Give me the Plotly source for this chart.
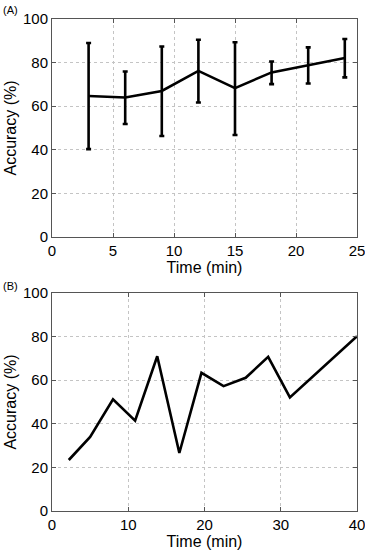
import plotly.graph_objects as go
from plotly.subplots import make_subplots

# panel A: mean accuracy with error bars
time_a = [3, 6, 9, 12, 15, 18, 21, 24]
acc_a = [64.7, 64.0, 67.0, 76.2, 68.3, 75.5, 78.8, 82.1]
upper_a = [89.0, 75.9, 87.4, 90.5, 89.3, 80.5, 87.0, 90.8]
lower_a = [40.3, 51.8, 46.3, 61.7, 46.8, 70.1, 70.4, 73.2]

# panel B: single run
time_b = [2.2, 5.0, 8.0, 10.9, 13.8, 16.7, 19.6, 22.5, 25.4, 28.35, 31.2, 34.1, 37.0, 40.0]
acc_b = [23.4, 34.0, 51.2, 41.4, 71.0, 26.6, 63.4, 57.3, 61.1, 70.7, 52.1, 61.4, 70.6, 80.2]

W, H = 365, 552
ML, MR, MT, MB = 52, 8, 19, 41
font = "Liberation Sans, Arial, Helvetica, sans-serif"

fig = make_subplots(rows=2, cols=1, vertical_spacing=0.114)

fig.add_trace(
    go.Scatter(
        x=time_a,
        y=acc_a,
        mode="lines",
        line=dict(color="black", width=2.6),
        error_y=dict(
            type="data",
            symmetric=False,
            array=[u - m for u, m in zip(upper_a, acc_a)],
            arrayminus=[m - l for m, l in zip(acc_a, lower_a)],
            color="black",
            thickness=2.6,
            width=2.5,
        ),
        showlegend=False,
    ),
    row=1,
    col=1,
)
fig.add_trace(
    go.Scatter(
        x=time_b,
        y=acc_b,
        mode="lines",
        line=dict(color="black", width=2.6),
        showlegend=False,
    ),
    row=2,
    col=1,
)

axis_common = dict(
    showline=True,
    linecolor="#555555",
    linewidth=1,
    mirror="ticks",
    ticks="inside",
    ticklen=4,
    tickcolor="#555555",
    showgrid=True,
    gridcolor="#c4c4c4",
    griddash="dot",
    gridwidth=1,
    zeroline=False,
    automargin=False,
    ticklabeloverflow="allow",
    tickfont=dict(size=15, color="black", family=font),
)

fig.update_xaxes(**axis_common)
fig.update_yaxes(**axis_common)

title_font = dict(size=16)
fig.update_xaxes(range=[0, 25], dtick=5, row=1, col=1,
                 title=dict(text="Time (min)", standoff=0, font=title_font))
fig.update_xaxes(range=[0, 40], dtick=10, row=2, col=1,
                 title=dict(text="Time (min)", standoff=0, font=title_font))
fig.update_yaxes(range=[0, 100], dtick=20, row=1, col=1,
                 title=dict(text="Accuracy (%)", standoff=2, font=title_font))
fig.update_yaxes(range=[0, 100], dtick=20, row=2, col=1,
                 title=dict(text="Accuracy (%)", standoff=2, font=title_font))

pw = W - ML - MR
ph = H - MT - MB
fig.update_layout(
    width=W,
    height=H,
    margin=dict(l=ML, r=MR, t=MT, b=MB),
    plot_bgcolor="white",
    paper_bgcolor="white",
    font=dict(family=font, size=15, color="black"),
    annotations=[
        dict(text="(A)", x=(1 - ML) / pw, y=1 + (MT - 2) / ph, xref="paper", yref="paper",
             xanchor="left", yanchor="top", showarrow=False, font=dict(size=11)),
        dict(text="(B)", x=(1 - ML) / pw, y=(H - MB - 278) / ph, xref="paper", yref="paper",
             xanchor="left", yanchor="top", showarrow=False, font=dict(size=11)),
    ],
)

# drop the default 8px body margin so the figure fills the window
fig.write_html(
    "out.html",
    config={"displayModeBar": False},
    post_script="document.body.style.margin='0';document.body.style.overflow='hidden';",
)
